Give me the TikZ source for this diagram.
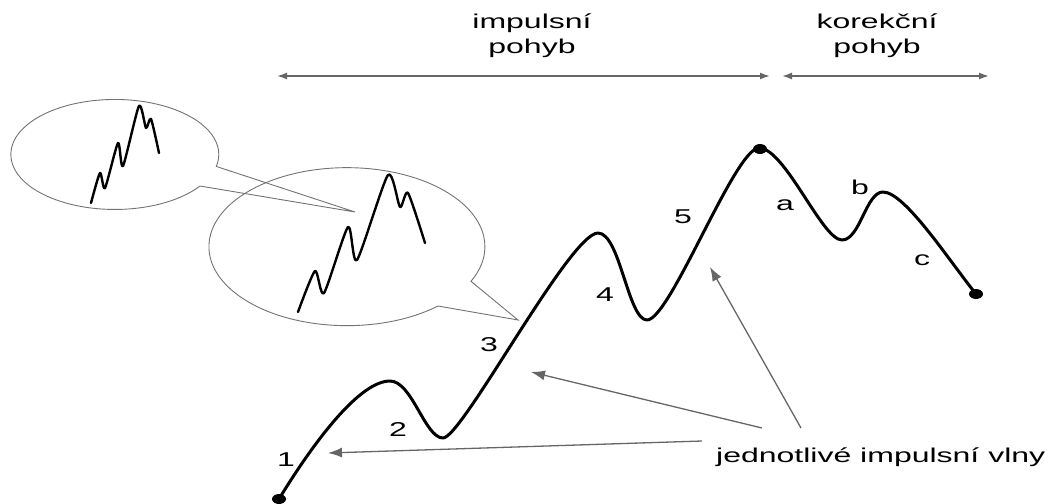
\documentclass[tikz,border=0pt]{standalone}
\usepackage{fontspec}
\setmainfont{Liberation Sans}
\usepackage{graphicx}
\usetikzlibrary{arrows.meta}
\newcommand{\sx}[1]{\scalebox{1.6}[1]{#1}}
\begin{document}
\begin{tikzpicture}[x=1pt,y=-1pt,
  txt/.style={font=\fontsize{20}{25}\selectfont, inner sep=0pt, align=center},
  wave/.style={line width=3pt, line cap=round, line join=round},
  miniwave/.style={line width=2.4pt, line cap=round, line join=round},
  bubble/.style={draw=black!55, line width=0.9pt, line join=miter},
  pointer/.style={draw=black!60, line width=1.3pt, -{Latex[length=14pt,width=10pt]}},
  span/.style={draw=black!60, line width=1.6pt, {Latex[length=10pt,width=7pt]}-{Latex[length=10pt,width=7pt]}}]
\useasboundingbox (0,0) rectangle (1056,503);

% top spans
\coordinate (i0) at (277,76);
\coordinate (i1) at (770,76);
\coordinate (k0) at (782,76);
\coordinate (k1) at (989,76);
\draw[span] (i0) -- (i1);
\draw[span] (k0) -- (k1);
\node[txt] (imp) at (532,36) {\sx{impulsní}\\\sx{pohyb}};
\node[txt] (kor) at (877,36) {\sx{korekční}\\\sx{pohyb}};

% speech bubbles
\draw[bubble] (200,186) arc[start angle=35, end angle=372.6, x radius=104, y radius=55] -- (355,212) -- cycle;
\draw[bubble] (438,306) arc[start angle=48.7, end angle=386, x radius=138, y radius=79] -- (518,320) -- cycle;

% mini waves
\draw[miniwave] plot[smooth, tension=0.4] coordinates {(91,203) (100,173) (105,188) (118,143) (123,166) (139,106) (146,128) (151,119) (159,153)};
\draw[miniwave] plot[smooth, tension=0.4] coordinates {(298,312) (315,271) (324,293) (348,227) (357,260) (388,175) (400,207) (408,193) (425,243)};

% main wave
\draw[wave] (279,499) .. controls (315,440) and (360,381) .. (390,381)
  .. controls (412,381) and (425,438) .. (443,438)
  .. controls (462,438) and (570,233) .. (598,233)
  .. controls (620,233) and (628,320) .. (647,320)
  .. controls (670,320) and (735,148) .. (759,148)
  .. controls (785,148) and (822,240) .. (842,240)
  .. controls (860,240) and (866,192) .. (883,192)
  .. controls (905,192) and (950,262) .. (976,294);
\fill (279,499) ellipse [x radius=7, y radius=5];
\fill (760,149) ellipse [x radius=7, y radius=5];
\fill (976,294) ellipse [x radius=7, y radius=5];

% wave labels
\node[txt] (n1) at (286,460) {\sx{1}};
\node[txt] (n2) at (398,430) {\sx{2}};
\node[txt] (n3) at (489,345) {\sx{3}};
\node[txt] (n4) at (605,295) {\sx{4}};
\node[txt] (n5) at (683,217) {\sx{5}};
\node[txt] (na) at (785,205) {\sx{a}};
\node[txt] (nb) at (860,187) {\sx{b}};
\node[txt] (nc) at (922,260) {\sx{c}};

% pointer label and arrows
\node[txt, anchor=west] (jiv) at (716,457) {\sx{jednotlivé impulsní vlny}};
\coordinate (s1) at (702,441);
\coordinate (t1) at (328,453);
\coordinate (s2) at (762,428);
\coordinate (t2) at (531,372);
\coordinate (s3) at (801,428);
\coordinate (t3) at (710,267);
\draw[pointer] (s1) -- (t1);
\draw[pointer] (s2) -- (t2);
\draw[pointer] (s3) -- (t3);
\end{tikzpicture}
\end{document}
